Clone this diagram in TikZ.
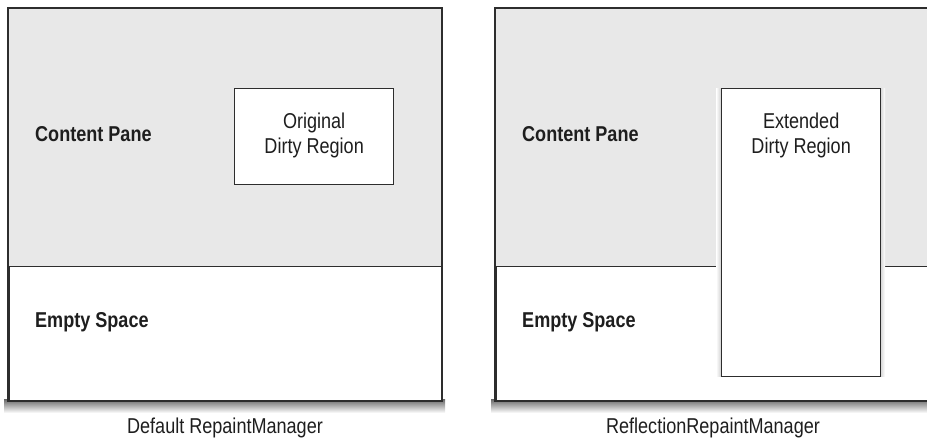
\documentclass[tikz,border=0pt]{standalone}
\usepackage{fontspec}
\setmainfont{Liberation Sans}[FakeStretch=0.84]
\definecolor{panefill}{RGB}{232,232,232}
\definecolor{frame}{RGB}{45,45,45}
\definecolor{ink}{RGB}{30,30,30}
\usetikzlibrary{positioning,shadows}

\tikzset{
  panel/.style={draw=frame, line width=1.6pt, fill=white, inner sep=0pt, anchor=north west,
    minimum width=433pt, minimum height=392pt},
  pane/.style={draw=frame, line width=1.3pt, fill=panefill, inner sep=0pt, anchor=north west,
    minimum width=433pt, minimum height=258pt},
  dirty/.style={draw=frame, line width=1.3pt, fill=white, inner sep=0pt, anchor=north west},
  bold label/.style={text=ink, font=\fontsize{21.5}{25}\selectfont\bfseries, anchor=west, inner sep=0pt},
  plain label/.style={text=ink, font=\fontsize{21.5}{25}\selectfont, align=center, inner sep=0pt},
}

\begin{document}
\begin{tikzpicture}[x=1pt, y=-1pt]
  \useasboundingbox (0,0) rectangle (927,440);
  \clip (0,0) rectangle (927,440);

  % shadows under the panels
  \foreach \px in {8,495} {
    \shade[top color=black!60, bottom color=white] (\px-4,399) rectangle (\px+437,413);
  }

  % left panel
  \node[panel] (frameA) at (8,8) {};
  \node[pane] (paneA) at (frameA.north west) {};
  \draw[frame, line width=1.6pt] (frameA.north west) rectangle (frameA.south east);
  \node[dirty, minimum width=159pt, minimum height=96pt] (dirtyA) at (234,88) {};
  \node[plain label, anchor=north] (dirtyAtxt) at ([yshift=-25pt]dirtyA.north) {Original\\Dirty Region};
  \node[bold label] (cpA) at (35,134) {Content Pane};
  \node[bold label] (esA) at (35,322) {Empty Space};
  \node[plain label] (capA) at (225,428) {Default RepaintManager};

  % right panel
  \node[panel] (frameB) at (495,8) {};
  \node[pane] (paneB) at (frameB.north west) {};
  \draw[frame, line width=1.6pt] (frameB.north west) rectangle (frameB.south east);
  \shade[left color=white, right color=black!18] (716,88) rectangle (721,376);
  \shade[left color=black!18, right color=white] (880,88) rectangle (885,376);
  \node[dirty, minimum width=159pt, minimum height=288pt] (dirtyB) at (721,88) {};
  \node[plain label, anchor=north] (dirtyBtxt) at ([yshift=-25pt]dirtyB.north) {Extended\\Dirty Region};
  \node[bold label] (cpB) at (522,134) {Content Pane};
  \node[bold label] (esB) at (522,322) {Empty Space};
  \node[plain label] (capB) at (713,428) {ReflectionRepaintManager};
\end{tikzpicture}
\end{document}
